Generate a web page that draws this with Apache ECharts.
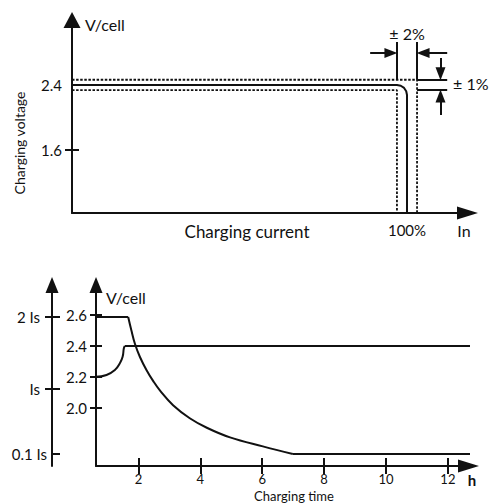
<!DOCTYPE html>
<html><head><meta charset="utf-8">
<script src="https://cdn.jsdelivr.net/npm/echarts@6/dist/echarts.min.js"></script>
<style>html,body{margin:0;padding:0;background:#fff}#c{width:492px;height:504px}</style>
</head><body><div id="c"></div>
<script>
// ---------- top chart: charging voltage vs charging current ----------
const topVoltLabels = [1.6, 2.4];
const topVoltTicks = [1.6];
const topCurrLabels = [100];
const nominalLine = [[0,2.4],[97,2.4],[98.14,2.391],[99.13,2.364],[99.77,2.324],[100,2.277],[100,0.825]];
const upperLimit = [[0,2.465],[103,2.465],[103,0.825]];
const lowerLimit = [[0,2.338],[97,2.338],[97,0.825]];
const extensionLines = [[[97,2.929],[97,2.465]],[[103,2.929],[103,2.465]],[[103,2.465],[112,2.465]],[[103,2.338],[112,2.338]]];
const dimensionArrows = [[[89,2.794],[95.2,2.794]],[[112,2.794],[104.8,2.794]],[[110,2.732],[110,2.539]],[[110,2.03],[110,2.264]]];
// ---------- bottom chart: voltage and current vs charging time ----------
const timeTicks = [2,4,6,8,10,12];
const cellVoltTicks = [2.0,2.2,2.4,2.6];
const currentTicks = [0.1,1,2];
const currentTickLabels = ['0.1 Is','Is','2 Is'];
const voltageCurve = [[0.63,2.2],[0.97,2.212],[1.24,2.244],[1.40,2.288],[1.49,2.33],[1.53,2.385],[1.56,2.40],[12.81,2.40]];
const currentCurve = [[0.63,2.0],[1.67,2.0],[1.77,1.82],[1.89,1.625],[2.05,1.445],[2.26,1.265],[2.48,1.11],[2.70,0.978],[3.12,0.777],[3.66,0.596],[4.21,0.464],[4.96,0.33],[6.02,0.205],[6.99,0.1],[12.81,0.1]];

const ink = '#111';
const font = 'Lato, "Open Sans", sans-serif';
const lineStyle = {color: ink, width: 2};
const dotted = {color: ink, width: 1.8, type: [2.5, 1.6]};
const hidden = {show: false};
function arrowLine(size){ return {show:true, onZero:false, symbol:['none','triangle'], symbolSize:size, lineStyle:lineStyle}; }
function lbl(extra){ return Object.assign({color: ink, fontSize: 15, fontFamily: font}, extra); }
function innerTicks(grid, min, max, vals, len, extra){
  return Object.assign({gridIndex:grid, type:'value', min:min, max:max, axisLine:{show:false,onZero:false},
    axisTick:{show:true, inside:true, customValues:vals, length:len, lineStyle:lineStyle},
    axisLabel:hidden, splitLine:hidden}, extra||{});
}
function curLabel(v){
  let i = 0, d = 1e9;
  currentTicks.forEach((c,k)=>{ if (Math.abs(c-v) < d){ d = Math.abs(c-v); i = k; } });
  return (i === 0 ? '{n|' : '{p|') + currentTickLabels[i] + '}';
}
function plain(data, xi, yi, style, smooth){
  return {type:'line', xAxisIndex:xi, yAxisIndex:yi, data:data, symbol:'none', smooth:smooth||false,
    lineStyle:style, silent:true, z:3};
}
function segs(list, xi, yi, arrow){
  const s = {type:'lines', coordinateSystem:'cartesian2d', xAxisIndex:xi, yAxisIndex:yi, polyline:false,
    data:list.map(c=>({coords:c})), lineStyle:{color:ink, width:2, opacity:1, curveness:0}, silent:true, z:4};
  if (arrow){ s.symbol = ['none','triangle']; s.symbolSize = [[1,1],[10,13]]; }
  else { s.symbol = ['none','none']; }
  return s;
}

const chart = echarts.init(document.getElementById('c'), null, {renderer:'svg'});
chart.setOption({
  animation:false,
  backgroundColor:'#fff',
  grid:[
    {left:72, top:20, right:24.5, bottom:291},
    {left:96, top:285, right:23.5, bottom:38}
  ],
  xAxis:[
    {gridIndex:0, type:'value', position:'bottom', min:0, max:118.06, axisLine:arrowLine([13,21]), axisTick:hidden, splitLine:hidden,
     axisLabel:lbl({customValues:topCurrLabels, formatter:v=>v+'%', margin:9})},
    {gridIndex:1, type:'value', position:'bottom', min:0.63, max:12.665, axisLine:arrowLine([13,21]),
     axisTick:{show:true, customValues:timeTicks, length:8, lineStyle:lineStyle}, splitLine:hidden,
     axisLabel:lbl({customValues:timeTicks, margin:6, fontSize:13})},
    innerTicks(1, 0.63, 12.665, timeTicks, 8, {position:'bottom'})
  ],
  yAxis:[
    {gridIndex:0, type:'value', position:'left', min:0.825, max:3.2, axisLine:arrowLine([17,16]),
     axisTick:{show:true, customValues:topVoltTicks, length:7, lineStyle:lineStyle}, splitLine:hidden,
     axisLabel:lbl({customValues:topVoltLabels, formatter:v=>v.toFixed(1), margin:10})},
    innerTicks(0, 0.825, 3.2, topVoltTicks, 7, {position:'left'}),
    {gridIndex:1, type:'value', position:'left', min:1.622, max:2.795, axisLine:arrowLine([13,16]),
     axisTick:{show:true, customValues:cellVoltTicks, length:6, lineStyle:lineStyle}, splitLine:hidden,
     axisLabel:lbl({customValues:cellVoltTicks, formatter:v=>v.toFixed(1), margin:9})},
    innerTicks(1, 1.622, 2.795, cellVoltTicks, 6, {position:'left'}),
    {gridIndex:1, type:'value', position:'left', offset:44, min:-0.067, max:2.444, axisLine:arrowLine([13,16]),
     axisTick:{show:true, customValues:[1,2], length:7, lineStyle:lineStyle}, splitLine:hidden,
     axisLabel:lbl({customValues:currentTicks, formatter:curLabel, margin:5,
       rich:{n:{color:ink,fontSize:15,fontFamily:font}, p:{color:ink,fontSize:15,fontFamily:font,padding:[0,7,0,0]}}})},
    innerTicks(1, -0.067, 2.444, currentTicks, 8, {position:'left', offset:44})
  ],
  series:[
    plain(upperLimit, 0, 0, dotted),
    plain(lowerLimit, 0, 0, dotted),
    plain(nominalLine, 0, 0, lineStyle),
    segs(extensionLines, 0, 0, false),
    segs(dimensionArrows, 0, 0, true),
    plain(voltageCurve.slice(0,7), 1, 2, lineStyle, 0.5),
    plain(voltageCurve.slice(6), 1, 2, lineStyle),
    plain(currentCurve.slice(0,2), 1, 4, lineStyle),
    plain(currentCurve.slice(1,14), 1, 4, lineStyle, 0.4),
    plain(currentCurve.slice(13), 1, 4, lineStyle)
  ],
  graphic:[
    {type:'text', x:85, y:24, style:{text:'V/cell', fill:ink, font:'16px '+font, align:'left', verticalAlign:'middle'}},
    {type:'text', x:19, y:143, rotation:Math.PI/2, style:{text:'Charging voltage', fill:ink, font:'14px '+font, align:'center', verticalAlign:'middle'}},
    {type:'text', x:247, y:231, style:{text:'Charging current', fill:ink, font:'17px '+font, align:'center', verticalAlign:'middle'}},
    {type:'text', x:464, y:230, style:{text:'In', fill:ink, font:'16px '+font, align:'center', verticalAlign:'middle'}},
    {type:'text', x:407, y:33, style:{text:'± 2%', fill:ink, font:'16px '+font, align:'center', verticalAlign:'middle'}},
    {type:'text', x:453, y:83, style:{text:'± 1%', fill:ink, font:'16px '+font, align:'left', verticalAlign:'middle'}},
    {type:'text', x:106, y:297, style:{text:'V/cell', fill:ink, font:'16px '+font, align:'left', verticalAlign:'middle'}},
    {type:'text', x:472, y:480, style:{text:'h', fill:ink, font:'bold 15px '+font, align:'center', verticalAlign:'middle'}},
    {type:'text', x:294, y:496, style:{text:'Charging time', fill:ink, font:'13px '+font, align:'center', verticalAlign:'middle'}}
  ]
});
</script></body></html>
